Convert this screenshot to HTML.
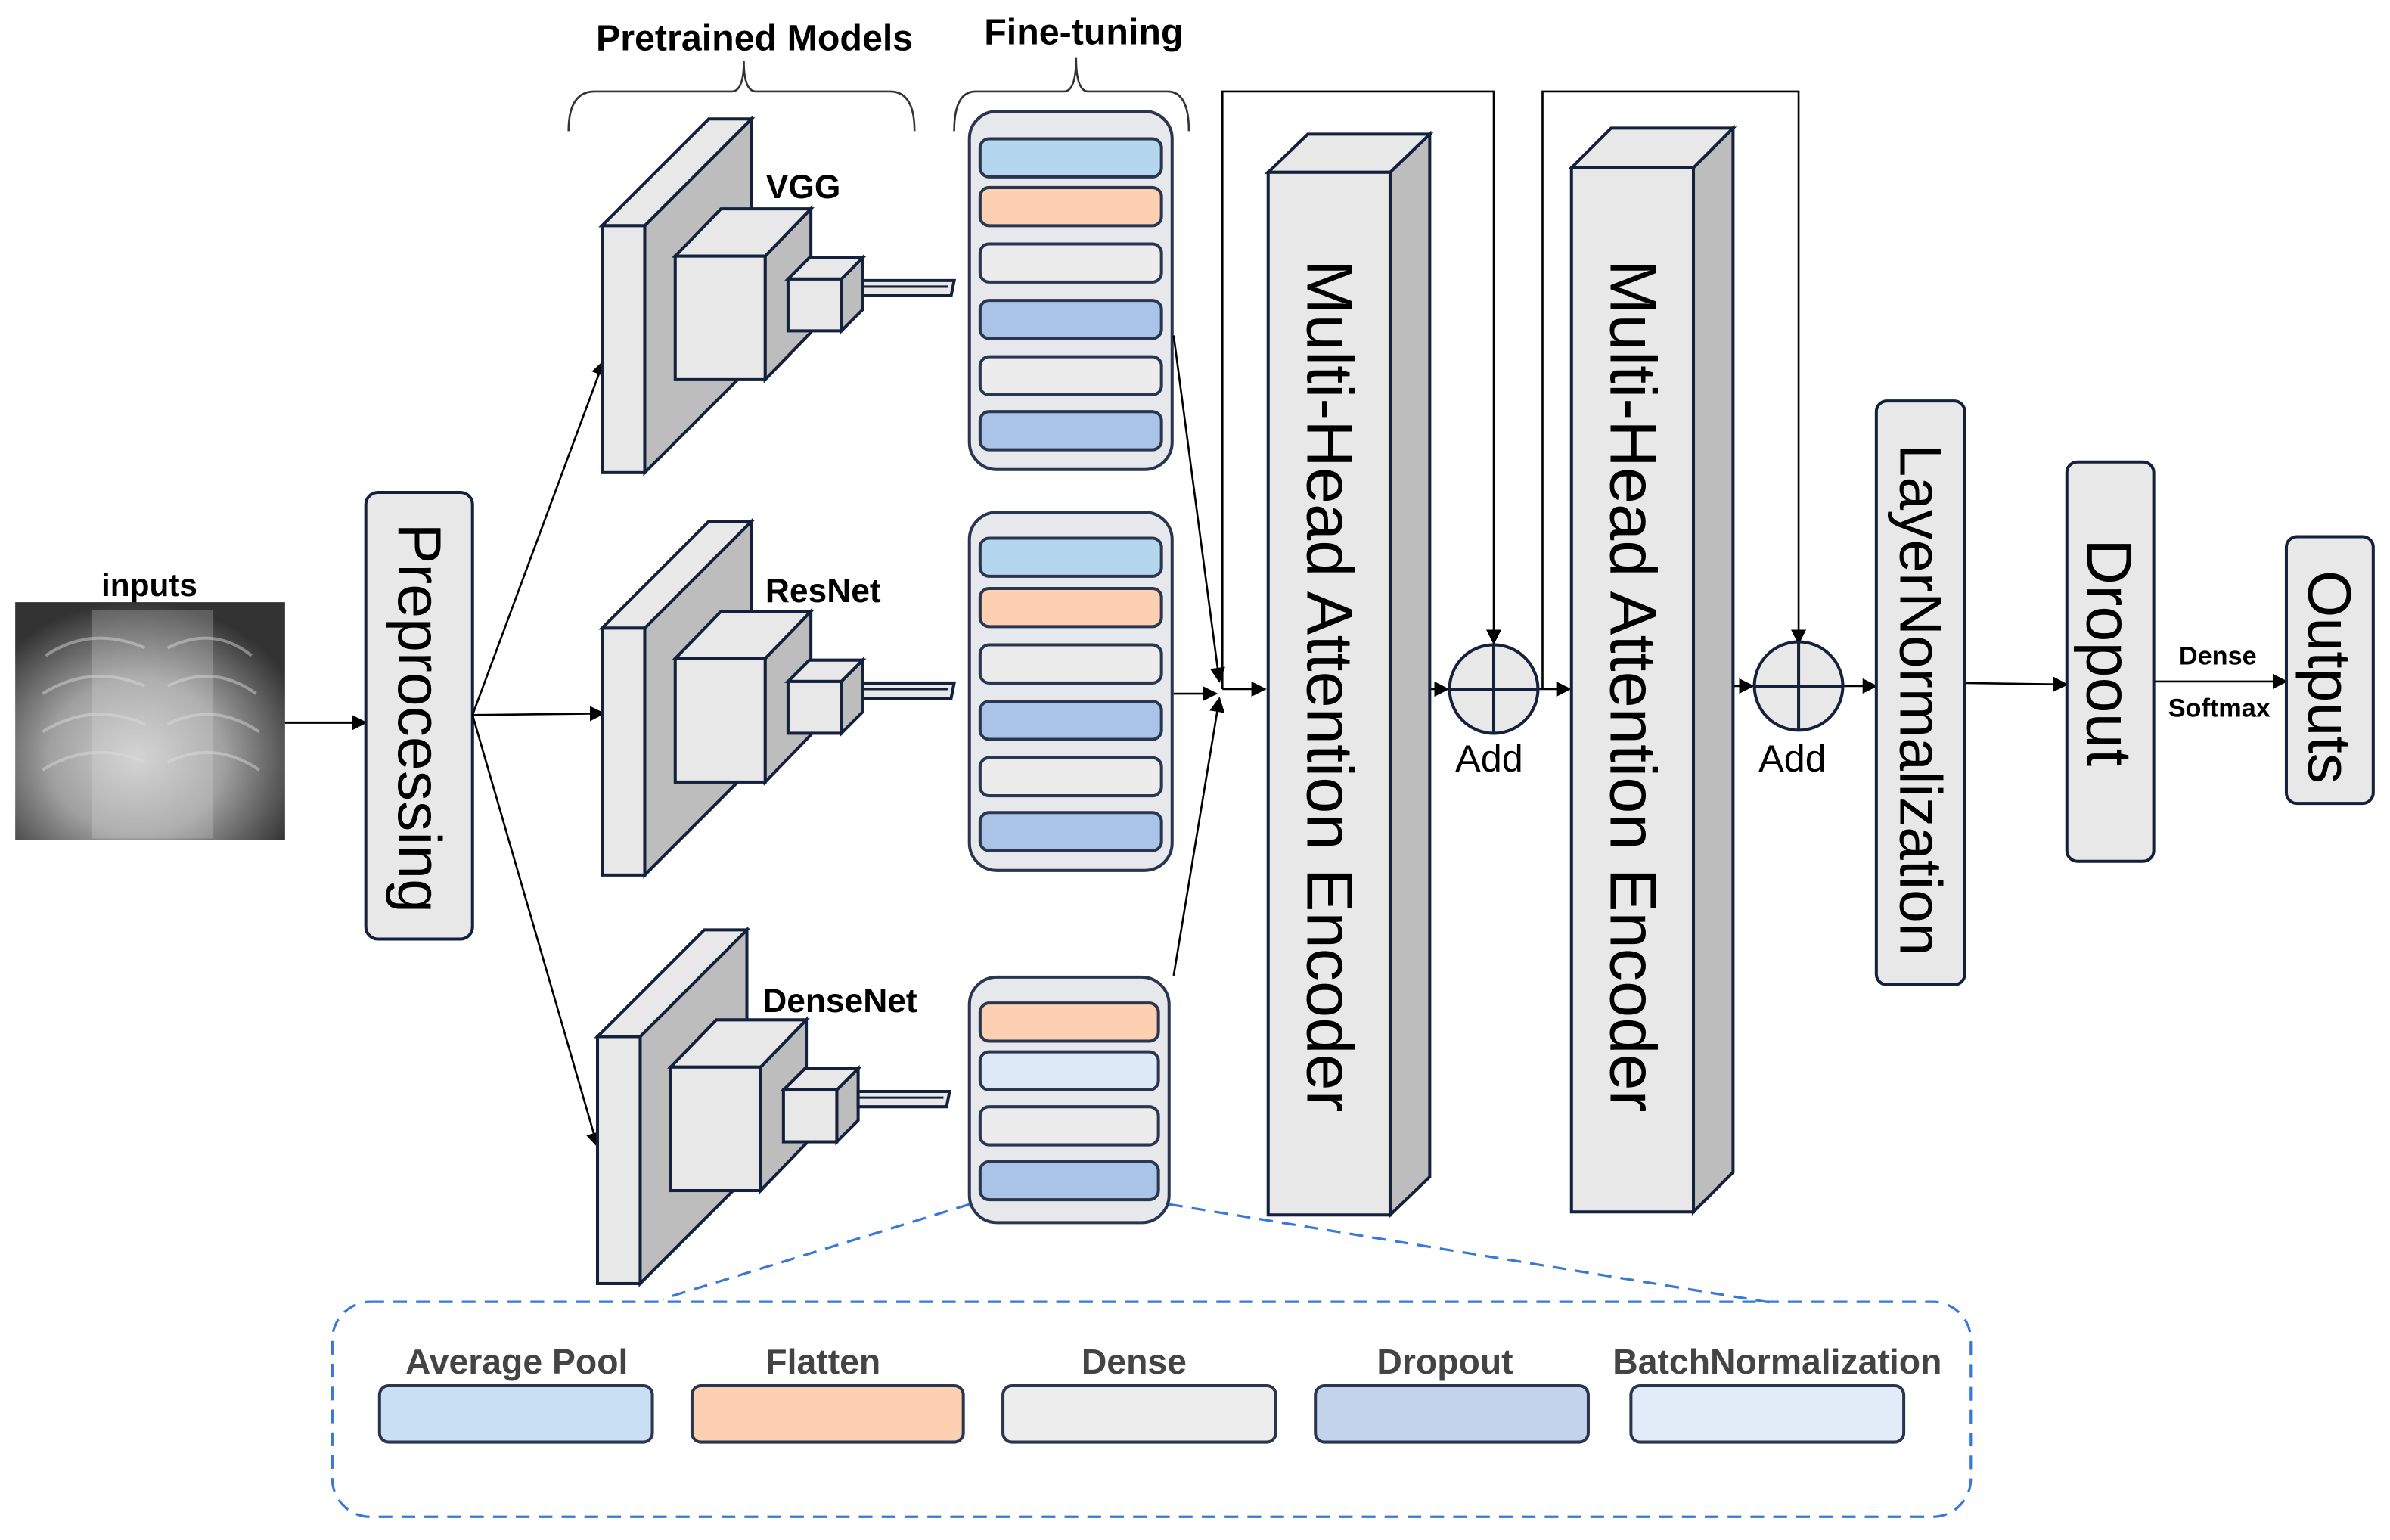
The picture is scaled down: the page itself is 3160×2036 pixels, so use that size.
<!DOCTYPE html>
<html><head><meta charset="utf-8"><style>
html,body{margin:0;padding:0;background:#fff;}
svg{display:block;}
text{font-family:"Liberation Sans",sans-serif;}
</style></head><body>
<svg width="3160" height="2036" viewBox="0 0 1568 1010.2" xmlns="http://www.w3.org/2000/svg">
<defs>
<marker id="ah" markerWidth="10" markerHeight="10" refX="9" refY="5" orient="auto" markerUnits="userSpaceOnUse"><path d="M0,0 L10,5 L0,10 z" fill="#000"/></marker>
<radialGradient id="xr" cx="0.45" cy="0.65" r="0.65"><stop offset="0" stop-color="#d0d0d0"/><stop offset="0.5" stop-color="#a0a0a0"/><stop offset="1" stop-color="#333"/></radialGradient>
<g id="blk">
 <polygon points="423,148 493,78 493,240 423,310" fill="#bdbdbd" stroke="#14213d" stroke-width="2"/>
 <polygon points="395,148 465,78 493,78 423,148" fill="#e8e8e8" stroke="#14213d" stroke-width="2"/>
 <rect x="395" y="148" width="28" height="162" fill="#e8e8e8" stroke="#14213d" stroke-width="2"/>
 <polygon points="502,168 532,137 532,218 502,249" fill="#bdbdbd" stroke="#14213d" stroke-width="2"/>
 <polygon points="443,168 473,137 532,137 502,168" fill="#e8e8e8" stroke="#14213d" stroke-width="2"/>
 <rect x="443" y="168" width="59" height="81" fill="#e8e8e8" stroke="#14213d" stroke-width="2"/>
 <polygon points="552,183 566,169 566,203 552,217" fill="#bdbdbd" stroke="#14213d" stroke-width="2"/>
 <polygon points="517,183 531,169 566,169 552,183" fill="#e8e8e8" stroke="#14213d" stroke-width="2"/>
 <rect x="517" y="183" width="35" height="34" fill="#e8e8e8" stroke="#14213d" stroke-width="2"/>
 <polygon points="566,184 626,184 624,194 566,194" fill="#e8e8e8" stroke="#14213d" stroke-width="2"/>
 <line x1="566" y1="188" x2="622" y2="188" stroke="#14213d" stroke-width="1.5"/>
</g>
</defs>

<text x="98" y="391" font-size="21" font-weight="bold" text-anchor="middle">inputs</text>
<rect x="10" y="395" width="177" height="156" fill="url(#xr)"/>
<rect x="60" y="400" width="80" height="150" fill="#e0e0e0" opacity="0.25"/>
<g stroke="#ddd" stroke-width="2" fill="none" opacity="0.45">
<path d="M30,430 Q60,410 95,425"/><path d="M28,455 Q60,435 95,450"/><path d="M28,480 Q60,460 95,475"/><path d="M28,505 Q60,485 95,500"/>
<path d="M110,425 Q140,410 165,430"/><path d="M110,450 Q140,435 168,455"/><path d="M110,475 Q140,460 170,480"/><path d="M110,500 Q140,485 170,505"/>
</g>
<line x1="187" y1="474" x2="240" y2="474" stroke="#000" stroke-width="1.5" marker-end="url(#ah)"/>

<rect x="240" y="323" width="70" height="293" rx="8" fill="#e8e8e8" stroke="#14213d" stroke-width="2"/>
<text transform="translate(275,471) rotate(90)" font-size="40" text-anchor="middle" dominant-baseline="central">Preprocessing</text>
<g stroke="#000" stroke-width="1.3" fill="none">
<line x1="310" y1="469" x2="396" y2="237" marker-end="url(#ah)"/>
<line x1="310" y1="469" x2="396" y2="468" marker-end="url(#ah)"/>
<line x1="310" y1="469" x2="392" y2="752" marker-end="url(#ah)"/>
</g>

<text x="495" y="33" font-size="24" font-weight="bold" text-anchor="middle">Pretrained Models</text>
<path d="M373,86 Q373,60 390,60 L480,60 Q488,60 488,40 Q488,60 496,60 L584,60 Q600,60 600,86" fill="none" stroke="#333" stroke-width="1.3"/>
<text x="711" y="29" font-size="24" font-weight="bold" text-anchor="middle">Fine-tuning</text>
<path d="M626,86 Q626,60 640,60 L698,60 Q706,60 706,38 Q706,60 714,60 L766,60 Q780,60 780,86" fill="none" stroke="#333" stroke-width="1.3"/>

<use href="#blk"/>
<use href="#blk" transform="translate(0,264)"/>
<use href="#blk" transform="translate(-3,532)"/>
<text x="527" y="130" font-size="22" font-weight="bold" text-anchor="middle">VGG</text>
<text x="540" y="395" font-size="22" font-weight="bold" text-anchor="middle">ResNet</text>
<text x="551" y="664" font-size="22" font-weight="bold" text-anchor="middle">DenseNet</text>

<g stroke="#2a3550" stroke-width="2">
<rect x="636" y="73" width="133" height="235" rx="18" fill="#e6e8ec"/>
<rect x="643" y="91" width="119" height="25" rx="6" fill="#b4d6ef"/>
<rect x="643" y="123" width="119" height="25" rx="6" fill="#fcd0b0"/>
<rect x="643" y="160" width="119" height="25" rx="6" fill="#ececec"/>
<rect x="643" y="197" width="119" height="25" rx="6" fill="#a9c4e6"/>
<rect x="643" y="234" width="119" height="25" rx="6" fill="#ececec"/>
<rect x="643" y="270" width="119" height="25" rx="6" fill="#a9c4e6"/>
<rect x="636" y="336" width="133" height="235" rx="18" fill="#e6e8ec"/>
<rect x="643" y="353" width="119" height="25" rx="6" fill="#b4d6ef"/>
<rect x="643" y="386" width="119" height="25" rx="6" fill="#fcd0b0"/>
<rect x="643" y="423" width="119" height="25" rx="6" fill="#ececec"/>
<rect x="643" y="460" width="119" height="25" rx="6" fill="#a9c4e6"/>
<rect x="643" y="497" width="119" height="25" rx="6" fill="#ececec"/>
<rect x="643" y="533" width="119" height="25" rx="6" fill="#a9c4e6"/>
<rect x="636" y="641" width="131" height="161" rx="18" fill="#e6e8ec"/>
<rect x="643" y="658" width="117" height="25" rx="6" fill="#fcd0b0"/>
<rect x="643" y="690" width="117" height="25" rx="6" fill="#dce9f6"/>
<rect x="643" y="726" width="117" height="25" rx="6" fill="#ececec"/>
<rect x="643" y="762" width="117" height="25" rx="6" fill="#a9c4e6"/>
</g>

<g stroke="#000" stroke-width="1.3" fill="none">
<line x1="770" y1="220" x2="800" y2="447" marker-end="url(#ah)"/>
<line x1="770" y1="455" x2="798" y2="455" marker-end="url(#ah)"/>
<line x1="770" y1="640" x2="800" y2="458" marker-end="url(#ah)"/>
<line x1="802" y1="452" x2="830" y2="452" marker-end="url(#ah)"/>
<polyline points="802,452 802,60 980,60 980,422" marker-end="url(#ah)"/>
<line x1="938" y1="452" x2="950" y2="452" marker-end="url(#ah)"/>
<line x1="1010" y1="452" x2="1030" y2="452" marker-end="url(#ah)"/>
<polyline points="1012,452 1012,60 1180,60 1180,422" marker-end="url(#ah)"/>
<line x1="1137" y1="450" x2="1150" y2="450" marker-end="url(#ah)"/>
<line x1="1210" y1="450" x2="1231" y2="450" marker-end="url(#ah)"/>
<line x1="1289" y1="448" x2="1356" y2="449" marker-end="url(#ah)"/>
<line x1="1413" y1="447" x2="1500" y2="447" marker-end="url(#ah)"/>
</g>

<g stroke="#14213d" stroke-width="2">
<polygon points="912,113 938,88 938,772 912,797" fill="#bdbdbd"/>
<polygon points="832,113 858,88 938,88 912,113" fill="#e8e8e8"/>
<rect x="832" y="113" width="80" height="684" fill="#e8e8e8"/>
<polygon points="1111,110 1137,84 1137,769 1111,795" fill="#bdbdbd"/>
<polygon points="1031,110 1057,84 1137,84 1111,110" fill="#e8e8e8"/>
<rect x="1031" y="110" width="80" height="685" fill="#e8e8e8"/>
</g>
<text transform="translate(872,450) rotate(90)" font-size="43" text-anchor="middle" dominant-baseline="central">Multi-Head Attention Encoder</text>
<text transform="translate(1071,450) rotate(90)" font-size="43" text-anchor="middle" dominant-baseline="central">Multi-Head Attention Encoder</text>

<g stroke="#14213d" stroke-width="2" fill="#e8e8e8">
<circle cx="980" cy="452" r="29"/><line x1="951" y1="452" x2="1009" y2="452"/><line x1="980" y1="423" x2="980" y2="481"/>
<circle cx="1180" cy="450" r="29"/><line x1="1151" y1="450" x2="1209" y2="450"/><line x1="1180" y1="421" x2="1180" y2="479"/>
</g>
<text x="977" y="506" font-size="25" text-anchor="middle">Add</text>
<text x="1176" y="506" font-size="25" text-anchor="middle">Add</text>

<g stroke="#14213d" stroke-width="2" fill="#e8e8e8">
<rect x="1231" y="263" width="58" height="383" rx="7"/>
<rect x="1356" y="303" width="57" height="262" rx="7"/>
<rect x="1500" y="352" width="57" height="175" rx="7"/>
</g>
<text transform="translate(1260,459) rotate(90)" font-size="39" text-anchor="middle" dominant-baseline="central">LayerNormalization</text>
<text transform="translate(1384,428) rotate(90)" font-size="42" text-anchor="middle" dominant-baseline="central">Dropout</text>
<text transform="translate(1528,444) rotate(90)" font-size="40" text-anchor="middle" dominant-baseline="central">Outputs</text>
<text x="1455" y="436" font-size="17" font-weight="bold" text-anchor="middle">Dense</text>
<text x="1456" y="470" font-size="17" font-weight="bold" text-anchor="middle">Softmax</text>

<g stroke="#3a78d8" stroke-width="1.6" stroke-dasharray="9,6" fill="none">
<line x1="636" y1="790" x2="435" y2="852"/>
<line x1="767" y1="790" x2="1165" y2="855"/>
<rect x="218" y="854" width="1075" height="141" rx="25"/>
</g>
<g font-size="23" font-weight="bold" fill="#444" text-anchor="middle">
<text x="339" y="901">Average Pool</text>
<text x="540" y="901">Flatten</text>
<text x="744" y="901">Dense</text>
<text x="948" y="901">Dropout</text>
<text x="1166" y="901">BatchNormalization</text>
</g>
<g stroke="#2a3550" stroke-width="2">
<rect x="249" y="909" width="179" height="37" rx="6" fill="#c9e0f2"/>
<rect x="454" y="909" width="178" height="37" rx="6" fill="#fcd0b0"/>
<rect x="658" y="909" width="179" height="37" rx="6" fill="#ededed"/>
<rect x="863" y="909" width="179" height="37" rx="6" fill="#c3d3ec"/>
<rect x="1070" y="909" width="179" height="37" rx="6" fill="#e1ecf8"/>
</g>
</svg>
</body></html>
